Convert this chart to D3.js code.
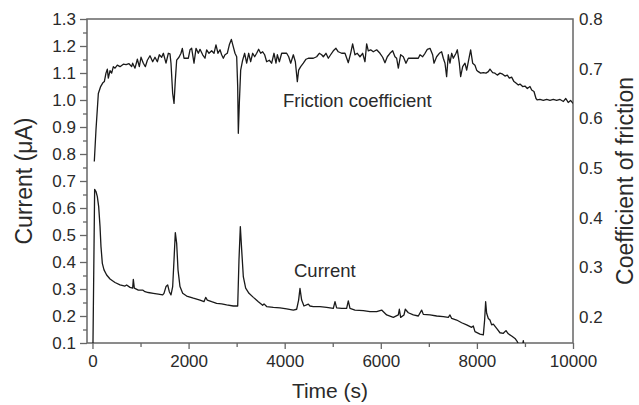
<!DOCTYPE html>
<html><head><meta charset="utf-8">
<script src="https://cdn.jsdelivr.net/npm/d3@7/dist/d3.min.js"></script>
<style>
html,body{margin:0;padding:0;background:#fff;}
svg{display:block;}
text{font-family:"Liberation Sans",Arial,sans-serif;fill:#2a2a2a;}
</style></head>
<body>
<svg id="chart" width="639" height="405"></svg>
<script>
// ---- data ----
const currentTime = [10,45,73,101,129,157,177,205,240,295,365,469,573,677,711,781,836,850,871,954,1044,1093,1162,1266,1370,1461,1488,1530,1565,1599,1634,1669,1697,1724,1752,1780,1821,1877,1960,2099,2238,2321,2356,2390,2480,2584,2688,2792,2931,3022,3049,3077,3105,3139,3188,3257,3348,3452,3542,3570,3625,3764,3903,4041,4180,4249,4290,4318,4353,4401,4492,4526,4596,4735,4873,5012,5047,5081,5185,5289,5324,5359,5463,5636,5775,5914,6018,6122,6261,6365,6386,6413,6483,6510,6573,6677,6781,6850,6885,7024,7163,7301,7405,7440,7475,7579,7683,7787,7891,7925,7960,8064,8134,8161,8182,8203,8238,8272,8307,8342,8411,8480,8550,8605,8654,8723,8793,8841,8869,8900,8950,8966,8980];
const currentValue = [0.09,0.669,0.661,0.642,0.605,0.531,0.457,0.395,0.371,0.352,0.337,0.324,0.315,0.311,0.315,0.306,0.303,0.336,0.303,0.296,0.296,0.290,0.287,0.284,0.281,0.278,0.284,0.309,0.315,0.290,0.278,0.309,0.408,0.509,0.469,0.371,0.309,0.284,0.274,0.266,0.259,0.253,0.269,0.259,0.253,0.247,0.245,0.241,0.237,0.237,0.408,0.531,0.445,0.346,0.303,0.284,0.269,0.253,0.240,0.245,0.235,0.232,0.230,0.226,0.222,0.225,0.259,0.302,0.259,0.237,0.244,0.237,0.235,0.235,0.232,0.228,0.253,0.230,0.228,0.228,0.256,0.228,0.222,0.220,0.216,0.216,0.222,0.204,0.195,0.204,0.225,0.195,0.204,0.225,0.212,0.204,0.200,0.222,0.206,0.204,0.200,0.198,0.195,0.204,0.191,0.185,0.175,0.167,0.158,0.163,0.142,0.133,0.130,0.185,0.253,0.210,0.191,0.185,0.167,0.170,0.154,0.138,0.136,0.146,0.134,0.126,0.117,0.105,0.094,0.085,0.090,0.109,0.090];

const frictionTime = [38,73,122,170,212,247,281,309,330,365,399,434,469,517,573,642,700,760,815,836,885,934,975,1010,1058,1100,1142,1197,1253,1301,1350,1391,1440,1475,1530,1579,1613,1634,1669,1697,1724,1752,1800,1842,1870,1905,1950,1995,2030,2064,2113,2155,2203,2238,2293,2342,2376,2425,2480,2529,2570,2612,2654,2688,2723,2758,2806,2848,2890,2931,2966,3001,3022,3035,3056,3084,3125,3167,3209,3250,3292,3334,3375,3417,3458,3500,3542,3583,3625,3680,3729,3778,3819,3847,3889,3937,3990,4041,4083,4125,4180,4222,4263,4291,4333,4388,4444,4492,4526,4596,4665,4720,4769,4804,4859,4908,4956,5012,5067,5116,5185,5255,5324,5373,5414,5463,5511,5567,5622,5671,5706,5740,5789,5844,5914,5983,6039,6087,6136,6191,6247,6295,6330,6365,6413,6469,6524,6573,6677,6781,6816,6871,6920,6968,7024,7079,7107,7162,7218,7266,7301,7336,7370,7405,7440,7475,7509,7565,7593,7634,7662,7704,7752,7787,7828,7870,7912,7960,7995,8030,8078,8134,8189,8238,8272,8328,8376,8425,8480,8536,8585,8633,8675,8723,8772,8813,8862,8897,8952,9001,9049,9105,9140,9188,9230,9257,9313,9382,9452,9521,9590,9660,9730,9800,9850,9900,9950,10000];
const frictionValue = [0.513,0.577,0.650,0.664,0.671,0.674,0.691,0.699,0.681,0.696,0.691,0.704,0.701,0.707,0.704,0.709,0.708,0.710,0.704,0.711,0.701,0.719,0.704,0.723,0.711,0.704,0.717,0.726,0.714,0.723,0.714,0.728,0.723,0.731,0.711,0.731,0.730,0.711,0.650,0.630,0.677,0.717,0.723,0.731,0.741,0.721,0.721,0.721,0.738,0.741,0.711,0.741,0.731,0.739,0.728,0.721,0.738,0.731,0.736,0.731,0.748,0.731,0.738,0.728,0.721,0.728,0.731,0.748,0.759,0.744,0.731,0.724,0.664,0.570,0.630,0.697,0.717,0.731,0.711,0.731,0.714,0.731,0.724,0.731,0.739,0.731,0.734,0.728,0.714,0.717,0.711,0.731,0.711,0.728,0.714,0.731,0.731,0.731,0.724,0.711,0.728,0.714,0.674,0.697,0.704,0.711,0.719,0.721,0.721,0.721,0.724,0.731,0.728,0.724,0.731,0.721,0.728,0.736,0.741,0.734,0.731,0.731,0.712,0.731,0.750,0.728,0.731,0.724,0.731,0.714,0.750,0.736,0.738,0.734,0.738,0.731,0.723,0.712,0.724,0.731,0.736,0.724,0.721,0.701,0.728,0.724,0.711,0.721,0.721,0.721,0.728,0.724,0.731,0.739,0.741,0.728,0.711,0.724,0.731,0.734,0.721,0.711,0.684,0.728,0.711,0.731,0.721,0.731,0.738,0.711,0.684,0.704,0.711,0.697,0.717,0.738,0.711,0.707,0.697,0.694,0.691,0.692,0.691,0.694,0.699,0.692,0.691,0.687,0.691,0.689,0.685,0.687,0.681,0.683,0.674,0.671,0.667,0.669,0.664,0.665,0.660,0.664,0.657,0.654,0.640,0.637,0.638,0.636,0.638,0.636,0.638,0.636,0.638,0.634,0.640,0.632,0.636,0.630];

const xTickValues = [0,2000,4000,6000,8000,10000];
const xMinorTicks = [1000,3000,5000,7000,9000];
const leftTickValues = [0.1,0.2,0.3,0.4,0.5,0.6,0.7,0.8,0.9,1.0,1.1,1.2,1.3];
const leftMinorTicks = [0.15,0.25,0.35,0.45,0.55,0.65,0.75,0.85,0.95,1.05,1.15,1.25];
const rightTickValues = [0.2,0.3,0.4,0.5,0.6,0.7,0.8];
const labels = {x:"Time (s)", left:"Current (\u03bcA)", right:"Coefficient of friction", friction:"Friction coefficient", current:"Current"};

// ---- layout ----
const L = 87, R = 573, T = 19, B = 343;
const svg = d3.select("#chart");
const x = d3.scaleLinear().domain([-114, 10000]).range([L, R]);
const yL = d3.scaleLinear().domain([0.1, 1.3]).range([B, T]);
const yR = d3.scaleLinear().domain([0.1477, 0.8]).range([B, T]);

svg.append("defs").append("clipPath").attr("id","clip")
  .append("rect").attr("x",L).attr("y",T).attr("width",R-L).attr("height",B-T);

const axisColor = "#666";
function styleAxis(g){
  g.select(".domain").remove();
  g.selectAll(".tick line").attr("stroke",axisColor).attr("stroke-width",1.3);
  g.selectAll(".tick text").attr("font-size",17).attr("fill","#2a2a2a")
    .attr("font-family",'"Liberation Sans",Arial,sans-serif');
}

// frame
svg.append("rect").attr("x",L).attr("y",T).attr("width",R-L).attr("height",B-T)
  .attr("fill","none").attr("stroke",axisColor).attr("stroke-width",1.5);

// bottom axis
svg.append("g").attr("transform",`translate(0,${B})`)
  .call(d3.axisBottom(x).tickValues(xTickValues).tickFormat(d3.format("d")).tickSize(6).tickPadding(6))
  .call(styleAxis);
svg.append("g").attr("transform",`translate(0,${B})`)
  .call(d3.axisBottom(x).tickValues(xMinorTicks).tickFormat("").tickSize(4))
  .call(styleAxis);

// left axis
svg.append("g").attr("transform",`translate(${L},0)`)
  .call(d3.axisLeft(yL).tickValues(leftTickValues).tickFormat(d3.format(".1f")).tickSize(7).tickPadding(4))
  .call(styleAxis);
svg.append("g").attr("transform",`translate(${L},0)`)
  .call(d3.axisLeft(yL).tickValues(leftMinorTicks).tickFormat("").tickSize(4))
  .call(styleAxis);

// right axis
svg.append("g").attr("transform",`translate(${R},0)`)
  .call(d3.axisRight(yR).tickValues(rightTickValues).tickFormat(d3.format(".1f")).tickSize(0).tickPadding(6))
  .call(styleAxis);

// lines
const plot = svg.append("g").attr("clip-path","url(#clip)");
const curData = currentTime.map((t,i)=>({t, v: currentValue[i]}));
const friData = frictionTime.map((t,i)=>({t, v: frictionValue[i]}));
plot.append("path").datum(curData)
  .attr("d", d3.line().x(d=>x(d.t)).y(d=>yL(d.v)))
  .attr("fill","none").attr("stroke","#1a1a1a").attr("stroke-width",1.3).attr("stroke-linejoin","round");
plot.append("path").datum(friData)
  .attr("d", d3.line().x(d=>x(d.t)).y(d=>yR(d.v)))
  .attr("fill","none").attr("stroke","#1a1a1a").attr("stroke-width",1.3).attr("stroke-linejoin","round");

// annotations
svg.append("text").attr("x",283).attr("y",107).attr("font-size",18.5).text(labels.friction);
svg.append("text").attr("x",294).attr("y",277).attr("font-size",18.5).text(labels.current);

// axis titles
svg.append("text").attr("x",(L+R)/2).attr("y",398).attr("text-anchor","middle").attr("font-size",21).text(labels.x);
svg.append("text").attr("transform",`translate(32,${(T+B)/2}) rotate(-90)`).attr("text-anchor","middle").attr("font-size",23).text(labels.left);
svg.append("text").attr("transform",`translate(633,${(T+B)/2}) rotate(-90)`).attr("text-anchor","middle").attr("font-size",23).text(labels.right);
</script>
</body></html>
